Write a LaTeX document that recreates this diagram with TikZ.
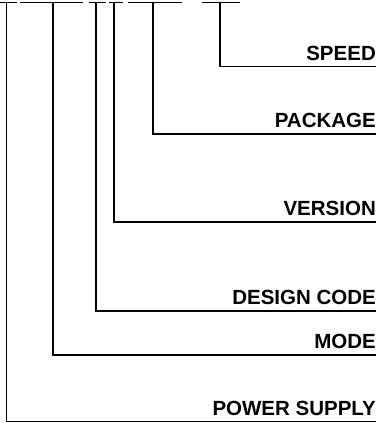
\documentclass[tikz,border=0pt]{standalone}
\usepackage{fontspec}
\setmainfont{Liberation Sans}
\usepackage{tikz}
\tikzset{
  etiqueta/.style={anchor=south east, inner xsep=0pt, inner ysep=6pt,
    text depth=0pt, font=\fontsize{20.5}{24}\bfseries\selectfont},
  linea/.style={line width=1.3pt, black},
  raya/.style={line width=1.3pt, black}
}

\begin{document}
\begin{tikzpicture}[x=1pt, y=-1pt]
  \useasboundingbox (0,0) rectangle (380,423);

  % --- Campos del codigo ---
  \foreach \nombre/\xa/\xb/\xv/\yl/\texto in {
      speed/202/240/220/66.5/SPEED,
      package/128/182/153/134/PACKAGE,
      version/109/123/114/222/VERSION,
      design/89/106/96/311/DESIGN CODE,
      mode/20/83/53/355/MODE,
      power/0/17/6.5/421.5/POWER SUPPLY} {
    \draw[raya] (\xa,2.5) -- (\xb,2.5);
    \coordinate (\nombre-top) at (\xv,2.5);
    \node[etiqueta] (\nombre) at (376,\yl) {\texto};
    \draw[linea] (\nombre-top) |- (\nombre.south east);
  }

\end{tikzpicture}
\end{document}
